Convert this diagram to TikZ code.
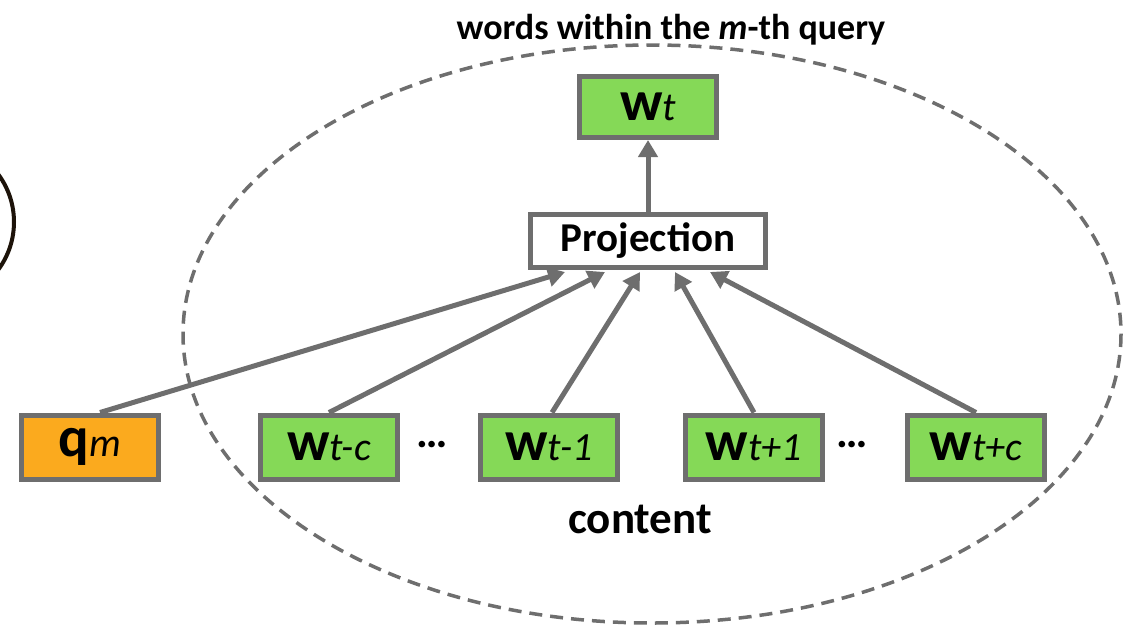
\documentclass[tikz,border=0pt]{standalone}
\usepackage{fontspec}
\setmainfont{Carlito}
\usetikzlibrary{arrows.meta}
\definecolor{lgray}{HTML}{6E6E6E}
\definecolor{wgreen}{HTML}{85D957}
\definecolor{qorange}{HTML}{FBAA1E}
\tikzset{
  box/.style={draw=lgray, line width=5pt, minimum width=137pt, minimum height=64pt, inner sep=0pt},
  wbox/.style={box, fill=wgreen},
  qbox/.style={box, fill=qorange},
  conn/.style={draw=lgray, line width=5pt, -{Triangle[length=17pt,width=19pt]}},
}
\newcommand{\wsym}[1]{{\fontsize{57}{60}\selectfont\bfseries w}{\fontsize{40}{44}\selectfont\itshape #1}}
\begin{document}
\begin{tikzpicture}[x=1pt,y=-1pt]
\useasboundingbox (0,0) rectangle (1130,633);
% left partial circle
\draw[draw=black!85!brown, line width=4pt] (-66,222) circle[radius=80];
% ellipse
\draw[lgray, line width=3.5pt, dash pattern=on 13pt off 8pt] (652,334) ellipse[x radius=469, y radius=289];
\node[font=\fontsize{36}{40}\selectfont\bfseries] (title) at (671,30) {words within the \textit{m}-th query};
\node[font=\fontsize{45}{50}\selectfont\bfseries] (content) at (640,519) {content};
\node[wbox, minimum height=61pt] (wt) at (648,107) {\wsym{t}};
\node[box, fill=white, minimum width=235pt, minimum height=53pt, font=\fontsize{41}{46}\selectfont\bfseries] (proj) at (648,241) {Projection};
\node[qbox] (qm) at (90,447) {{\fontsize{57}{60}\selectfont\bfseries q}{\fontsize{40}{44}\selectfont\itshape m}};
\node[wbox] (wtc) at (329,447) {\wsym{t-c}};
\node[wbox] (wt1) at (549,447) {\wsym{t-1}};
\node[wbox] (wtp1) at (754,447) {\wsym{t+1}};
\node[wbox] (wtpc) at (976,447) {\wsym{t+c}};
\node[font=\fontsize{44}{48}\selectfont\bfseries] (d1) at (432,445) {\dots};
\node[font=\fontsize{44}{48}\selectfont\bfseries] (d2) at (852,445) {\dots};
% connectors
\coordinate (p1) at (565,272);
\coordinate (p2) at (605,272);
\coordinate (p3) at (640,272);
\coordinate (p4) at (675,272);
\coordinate (p5) at (710,272);
\draw[conn] ([xshift=10pt]qm.north) -- (p1);
\draw[conn] (wtc.north) -- (p2);
\draw[conn] ([xshift=3pt]wt1.north) -- (p3);
\draw[conn] (wtp1.north) -- (p4);
\draw[conn] (wtpc.north) -- (p5);
\draw[conn] (proj.north) -- (wt.south);
\end{tikzpicture}
\end{document}
